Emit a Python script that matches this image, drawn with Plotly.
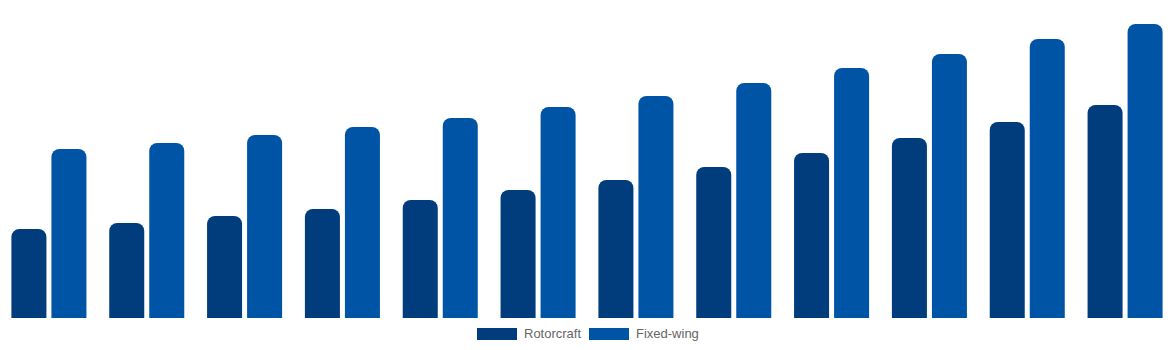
import plotly.graph_objects as go

categories = [str(i) for i in range(1, 13)]
rotorcraft = [89, 95, 102, 109, 118, 128, 138, 151, 165, 180, 196, 213]
fixed_wing = [169, 175, 183, 191, 200, 211, 222, 235, 250, 264, 279, 294]
series_names = ["Rotorcraft", "Fixed-wing"]
colors = ["#013C7D", "#0054A6"]

fig = go.Figure()
for name, vals, col in zip(series_names, [rotorcraft, fixed_wing], colors):
    fig.add_trace(go.Bar(x=categories, y=vals, name=name,
                         marker=dict(color=col, cornerradius=8, line=dict(width=0)),
                         showlegend=False))

# manual legend (wide swatches)
legend_items = [(series_names[0], colors[0], 477, 522), (series_names[1], colors[1], 589, 634)]
for name, col, sx, tx in legend_items:
    fig.add_shape(type="rect", xref="paper", yref="paper",
                  x0=sx / 1174, x1=(sx + 40) / 1174,
                  y0=-(328 - 318) / 300, y1=-(340 - 318) / 300,
                  fillcolor=col, line=dict(width=0))
    fig.add_annotation(text=name, xref="paper", yref="paper",
                       x=tx / 1174, y=-(333 - 318) / 300,
                       xanchor="left", yanchor="middle", showarrow=False,
                       font=dict(family="Liberation Sans, Arial", size=13, color="#666666"))

fig.update_layout(
    width=1174, height=350,
    margin=dict(l=0, r=0, t=18, b=32),
    barmode="group", bargap=0.182, bargroupgap=0.125,
    plot_bgcolor="white", paper_bgcolor="white",
    xaxis=dict(visible=False, range=[-0.5, 11.5]),
    yaxis=dict(visible=False, range=[0, 300]),
)
fig.write_html("out.html")
